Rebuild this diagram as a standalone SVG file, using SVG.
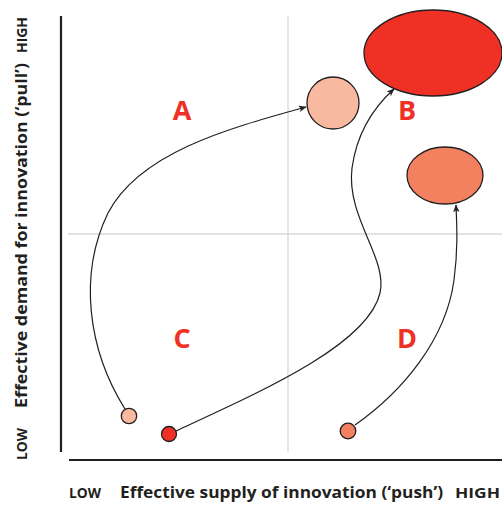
<svg xmlns="http://www.w3.org/2000/svg" width="502" height="505" viewBox="0 0 502 505">
<style>
.ax{stroke:#231f20;stroke-width:2.2;fill:none}
.grid{stroke:#d9d9d9;stroke-width:1.4;fill:none}
.node{stroke:#231f20;stroke-width:1.3}
.con{stroke:#231f20;stroke-width:1.2;fill:none;marker-end:url(#arr)}
.q{font-family:"Open Sans","DejaVu Sans",sans-serif;font-weight:700;font-size:27px;fill:#ee3124;text-anchor:middle}
.lab{font-family:"Open Sans","DejaVu Sans",sans-serif;font-weight:700;font-size:16px;fill:#231f20}
.sm{font-family:"Open Sans","DejaVu Sans",sans-serif;font-weight:700;font-size:14px;fill:#231f20}
</style>
<defs>
<marker id="arr" viewBox="0 0 10 10" refX="9" refY="5" markerWidth="8" markerHeight="8" markerUnits="userSpaceOnUse" orient="auto">
<path d="M0,1 L10,5 L0,9 L2.5,5 Z" fill="#231f20"/>
</marker>
</defs>
<rect width="502" height="505" fill="#ffffff"/>
<g id="grid">
<line class="grid" x1="68" y1="234" x2="502" y2="234"/>
<line class="grid" x1="288" y1="16" x2="288" y2="452"/>
</g>
<g id="axes">
<line class="ax" x1="61" y1="16" x2="61" y2="452"/>
<line class="ax" x1="69" y1="460" x2="502" y2="460"/>
</g>
<g id="axis-labels">
<text class="lab" x="120" y="498" textLength="323" lengthAdjust="spacingAndGlyphs">Effective supply of innovation (‘push’)</text>
<text class="sm" x="69" y="498" textLength="32" lengthAdjust="spacingAndGlyphs">LOW</text>
<text class="sm" x="455" y="498" textLength="45" lengthAdjust="spacingAndGlyphs">HIGH</text>
<text class="lab" transform="translate(27,408) rotate(-90)" textLength="345" lengthAdjust="spacingAndGlyphs">Effective demand for innovation (‘pull’)</text>
<text class="sm" transform="translate(27,460) rotate(-90)" textLength="32" lengthAdjust="spacingAndGlyphs">LOW</text>
<text class="sm" transform="translate(27,53) rotate(-90)" textLength="36" lengthAdjust="spacingAndGlyphs">HIGH</text>
</g>
<g id="quadrant-labels">
<text class="q" x="182" y="120">A</text>
<text class="q" x="407" y="120">B</text>
<text class="q" x="182" y="348">C</text>
<text class="q" x="407" y="348">D</text>
</g>
<g id="connectors">
<path class="con" d="M125,409 C88,350 78,275 108,213 C140,152 230,128 306,107"/>
<path class="con" d="M176,431 C260,392 368,345 380,293 C388,258 346,218 352,168 C357,132 374,107 394,89"/>
<path class="con" d="M355,425 C402,392 446,340 454,280 C458,250 457,228 456,205"/>
</g>
<g id="node-red-large"><ellipse class="node" cx="433" cy="53" rx="69" ry="43" fill="#ee3124"/></g>
<g id="node-peach-large"><circle class="node" cx="333" cy="103" r="26" fill="#f9b9a0"/></g>
<g id="node-orange-large"><ellipse class="node" cx="445" cy="175.5" rx="38" ry="28.5" fill="#f3805e"/></g>
<g id="node-peach-small"><circle class="node" cx="129" cy="416" r="7.7" fill="#f9b9a0"/></g>
<g id="node-red-small"><circle class="node" cx="169" cy="434" r="7.5" fill="#ee3124"/></g>
<g id="node-orange-small"><circle class="node" cx="348" cy="431" r="7.8" fill="#f3805e"/></g>
</svg>
